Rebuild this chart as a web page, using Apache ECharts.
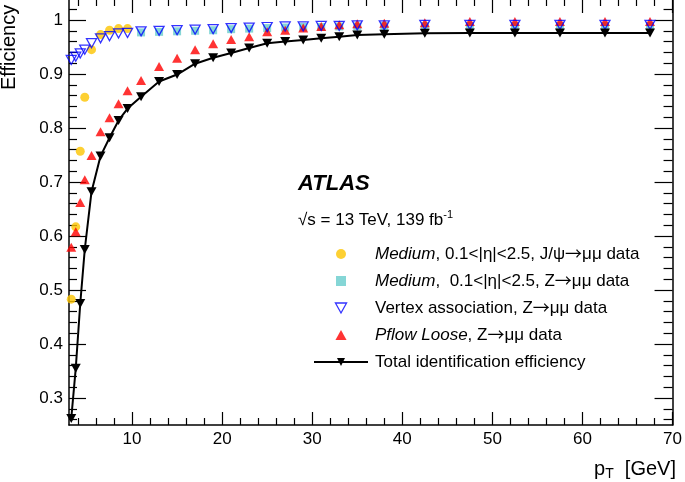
<!DOCTYPE html>
<html><head><meta charset="utf-8">
<script src="https://cdn.jsdelivr.net/npm/echarts@6/dist/echarts.min.js"></script>
<style>html,body{margin:0;padding:0;background:#fff}#c{width:685px;height:482px}</style>
</head><body><div id="c"></div>
<script>
// ---- data ----
const ptLow  = [3.25, 3.75, 4.25, 4.75, 5.5, 6.5, 7.5, 8.5, 9.5];
const ptHigh = [11, 13, 15, 17, 19, 21, 23, 25, 27, 29, 31, 33, 35, 38, 42.5, 47.5, 52.5, 57.5, 62.5, 67.5];
const ptAll  = ptLow.concat(ptHigh);

const effMediumJpsi = [0.483, 0.617, 0.757, 0.857, 0.945, 0.973, 0.981, 0.984, 0.984];
const effMediumZ    = [0.977, 0.978, 0.979, 0.980, 0.981, 0.983, 0.984, 0.985, 0.986, 0.987, 0.987, 0.988, 0.988, 0.989, 0.989, 0.989, 0.989, 0.989, 0.989, 0.989];
const effVertex     = [0.926, 0.932, 0.938, 0.945, 0.957, 0.966, 0.970, 0.975, 0.976,
                       0.979, 0.980, 0.981, 0.982, 0.983, 0.985, 0.986, 0.987, 0.988, 0.988, 0.989, 0.989, 0.990, 0.990, 0.991, 0.991, 0.991, 0.991, 0.991, 0.991];
const effPflow      = [0.579, 0.608, 0.662, 0.704, 0.749, 0.793, 0.819, 0.845, 0.869,
                       0.888, 0.914, 0.929, 0.945, 0.956, 0.964, 0.969, 0.978, 0.981, 0.985, 0.988, 0.991, 0.993, 0.994, 0.995, 0.997, 0.997, 0.997, 0.997, 0.997];
const effTotal      = [0.262, 0.355, 0.475, 0.575, 0.682, 0.748, 0.782, 0.814, 0.836,
                       0.858, 0.886, 0.899, 0.919, 0.930, 0.939, 0.948, 0.957, 0.960, 0.963, 0.966, 0.969, 0.972, 0.9735, 0.9755, 0.976, 0.976, 0.976, 0.976, 0.976];

const xMajorTicks = [10, 20, 30, 40, 50, 60, 70];
const yMajorTicks = [0.3, 0.4, 0.5, 0.6, 0.7, 0.8, 0.9, 1];
const xRange = [3, 70];
const yRange = [0.25, 1.037];

const nameJpsi   = 'Medium, 0.1<|η|<2.5, J/ψ→μμ data';
const nameZ      = 'Medium,  0.1<|η|<2.5, Z→μμ data';
const nameVertex = 'Vertex association, Z→μμ data';
const namePflow  = 'Pflow Loose, Z→μμ data';
const nameTotal  = 'Total identification efficiency';

// ---- helpers ----
function zip(xs, ys) { return xs.map((x, i) => [x, ys[i]]); }
function minorList(lo, hi, step, majors) {
  const out = [];
  const n = Math.round((hi - lo) / step);
  for (let i = 0; i <= n; i++) {
    const v = Math.round((lo + i * step) * 1000) / 1000;
    if (!majors.some(m => Math.abs(m - v) < 1e-6)) out.push(v);
  }
  return out;
}
const xMinorTicks = minorList(4, 68, 2, xMajorTicks);
const yMinorTicks = minorList(0.26, 1.02, 0.02, yMajorTicks);

const FONT = '"Liberation Sans", Arial, Helvetica, sans-serif';
const tickStyle = { color: '#000', width: 1.2 };

function xAxisDef(pos, ticks, len, withLabels, withLine) {
  return {
    type: 'value', min: xRange[0], max: xRange[1], position: pos,
    axisLine: { show: withLine, onZero: false, lineStyle: { color: '#000', width: 1.5 } },
    axisTick: { show: true, inside: true, length: len, customValues: ticks, lineStyle: tickStyle },
    axisLabel: withLabels ? { show: true, customValues: xMajorTicks, color: '#000', fontSize: 17, fontFamily: FONT, margin: 6 } : { show: false },
    splitLine: { show: false }
  };
}
function yAxisDef(pos, ticks, len, withLabels, withLine) {
  return {
    type: 'value', min: yRange[0], max: yRange[1], position: pos,
    axisLine: { show: withLine, onZero: false, lineStyle: { color: '#000', width: 1.5 } },
    axisTick: { show: true, inside: true, length: len, customValues: ticks, lineStyle: tickStyle },
    axisLabel: withLabels ? { show: true, customValues: yMajorTicks, color: '#000', fontSize: 17, fontFamily: FONT, margin: 6 } : { show: false },
    splitLine: { show: false }
  };
}

const richLegend = {
  i: { fontStyle: 'italic', fontSize: 17, fontFamily: FONT, color: '#000', lineHeight: 20 },
  a: { fontSize: 17, fontFamily: '"Noto Sans CJK SC", "DejaVu Sans", sans-serif', color: '#000', lineHeight: 20 }
};

const chart = echarts.init(document.getElementById('c'), null, { renderer: 'canvas' });
chart.setOption({
  animation: false,
  backgroundColor: '#fff',
  grid: { left: 69, right: 9, top: 0, bottom: 57 },
  xAxis: [
    xAxisDef('bottom', xMajorTicks, 13, true, true),
    xAxisDef('bottom', xMinorTicks, 7, false, false),
    xAxisDef('top', xMajorTicks, 13, false, false),
    xAxisDef('top', xMinorTicks, 6, false, false)
  ],
  yAxis: [
    yAxisDef('left', yMajorTicks, 17, true, true),
    yAxisDef('left', yMinorTicks, 8, false, false),
    yAxisDef('right', yMajorTicks, 18, false, true),
    yAxisDef('right', yMinorTicks, 9, false, false)
  ],
  legend: {
    orient: 'vertical', left: 308, top: 239,
    itemWidth: 54, itemHeight: 10, itemGap: 7,
    symbolKeepAspect: true,
    selectedMode: false,
    data: [
      { name: nameJpsi, icon: 'circle' },
      { name: nameZ, icon: 'path://M0,0L9,0L9,9L0,9Z', itemStyle: { color: '#66CCCC' } },
      { name: nameVertex, icon: 'path://M0,0L10,0L5,9Z', symbolRotate: 0,
        itemStyle: { color: 'rgba(255,255,255,0)', borderColor: '#0000FF', borderWidth: 1.3 } },
      { name: namePflow, icon: 'path://M5,0L10,9L0,9Z', symbolRotate: 0 },
      { name: nameTotal }
    ],
    formatter: n => n.replace(/^(Medium|Pflow Loose)/, '{i|$1}').replace(/→/g, '{a|→}'),
    textStyle: {
      color: '#000', fontSize: 17, fontFamily: FONT, lineHeight: 20, padding: [0, 0, 0, 2],
      rich: richLegend
    }
  },
  graphic: [
    { type: 'text', x: 298, y: 184, style: { text: 'ATLAS', fontSize: 22, fontWeight: 'bold', fontStyle: 'italic', fontFamily: FONT, fill: '#000', verticalAlign: 'middle' } },
    { type: 'text', x: 298, y: 220, style: {
        text: '√s = 13 TeV, 139 fb{sup|-1}', fontSize: 17, fontFamily: FONT, fill: '#000', verticalAlign: 'middle', lineHeight: 22,
        rich: { sup: { fontSize: 11, fontFamily: FONT, fill: '#000', lineHeight: 14, verticalAlign: 'top' } } } },
    { type: 'text', x: 676, y: 469, style: {
        text: 'p{sub|T}  [GeV]', fontSize: 20, fontFamily: FONT, fill: '#000', align: 'right', verticalAlign: 'middle', lineHeight: 24,
        rich: { sub: { fontSize: 14, fontFamily: FONT, fill: '#000', lineHeight: 13, verticalAlign: 'bottom' } } } },
    { type: 'text', x: 9, y: 90, rotation: Math.PI / 2, style: {
        text: 'Efficiency', fontSize: 20, fontFamily: FONT, fill: '#000', align: 'left', verticalAlign: 'middle' } }
  ],
  series: [
    { type: 'scatter', name: nameJpsi, data: zip(ptLow, effMediumJpsi), symbol: 'circle', symbolSize: 9,
      itemStyle: { color: '#FCC400' }, emphasis: { disabled: true } },
    { type: 'scatter', name: nameZ, data: zip(ptHigh, effMediumZ), symbol: 'rect', symbolSize: 8,
      itemStyle: { color: '#66CCCC' }, emphasis: { disabled: true } },
    { type: 'scatter', name: namePflow, data: zip(ptAll, effPflow), symbol: 'triangle', symbolSize: [10, 9],
      itemStyle: { color: '#FF0000' }, emphasis: { disabled: true } },
    { type: 'scatter', name: nameVertex, data: zip(ptAll, effVertex), symbol: 'triangle', symbolRotate: 180, symbolSize: [10, 9],
      itemStyle: { color: 'rgba(255,255,255,0)', borderColor: '#0000FF', borderWidth: 1.3 }, emphasis: { disabled: true } },
    { type: 'line', name: nameTotal, data: zip(ptAll, effTotal), symbol: 'triangle', symbolRotate: 180, symbolSize: [10, 9],
      showSymbol: true, lineStyle: { color: '#000', width: 2 }, itemStyle: { color: '#000' }, emphasis: { disabled: true } }
  ]
});
</script>
</body></html>
